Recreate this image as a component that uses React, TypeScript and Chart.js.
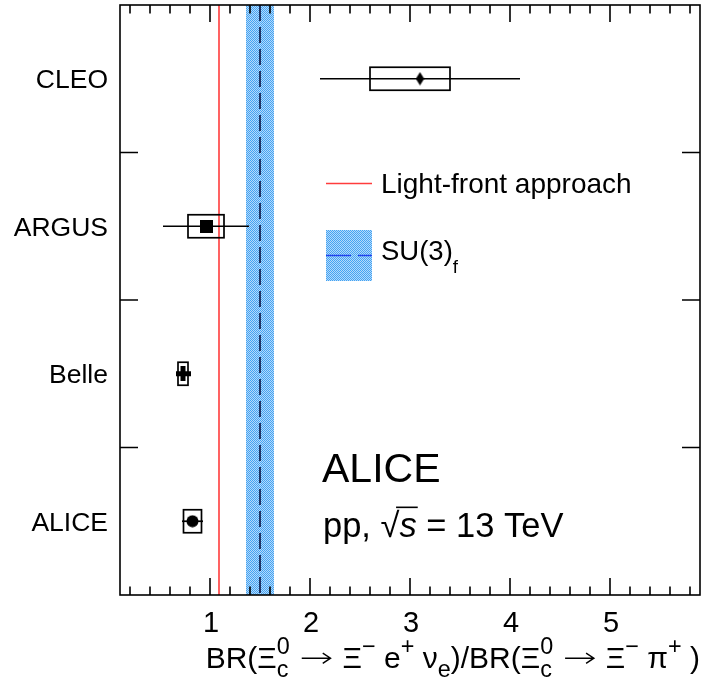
import React, { useEffect, useRef } from 'react';
import { Chart, registerables } from 'chart.js';

Chart.register(...registerables);

// ---------------- data ----------------
const experiments = ['CLEO', 'ARGUS', 'Belle', 'ALICE'];
const centralValues = [3.1, 0.96, 0.73, 0.825];
const statErrLow = [1.0, 0.43, 0.021, 0.105];
const statErrHigh = [1.0, 0.43, 0.021, 0.105];
const systErrLow = [0.5, 0.18, 0.05, 0.09];
const systErrHigh = [0.3, 0.18, 0.05, 0.09];
const markerShapes = ['diamond', 'square', 'cross', 'circle'];
const lightFrontValue = 1.09;
const su3Central = 1.5;
const su3Low = 1.36;
const su3High = 1.64;
const xTickLabels = [1, 2, 3, 4, 5];
const xMin = 0.1;
const xMax = 5.9;
const minorStep = 0.2;

// ---------------- style ----------------
const FONT = '"Liberation Sans", Arial, Helvetica, sans-serif';
const RED = 'rgb(255,60,60)';
const DASH_COLOR = '#1f3566';

type Seg = { t?: string; sup?: string; sub?: string; italic?: boolean; arrow?: boolean };

function segFont(size: number, italic?: boolean) {
  return `${italic ? 'italic ' : ''}${size}px ${FONT}`;
}

const ARROW_EM = 1.2;

function richWidth(ctx: CanvasRenderingContext2D, segs: Seg[], size: number, scr: number) {
  let w = 0;
  for (const s of segs) {
    if (s.arrow) {
      w += ARROW_EM * size;
      continue;
    }
    ctx.font = segFont(size, s.italic);
    w += ctx.measureText(s.t || '').width;
    ctx.font = segFont(size * scr);
    const a = s.sup ? ctx.measureText(s.sup).width : 0;
    const b = s.sub ? ctx.measureText(s.sub).width : 0;
    w += Math.max(a, b);
  }
  return w;
}

function drawArrow(ctx: CanvasRenderingContext2D, x: number, y: number, size: number) {
  const pad = 0.12 * size;
  const x1 = x + pad;
  const x2 = x + ARROW_EM * size - pad;
  const ay = y - 0.31 * size;
  ctx.save();
  ctx.strokeStyle = ctx.fillStyle as string;
  ctx.lineWidth = 1.4;
  ctx.beginPath();
  ctx.moveTo(x1, ay);
  ctx.lineTo(x2, ay);
  ctx.moveTo(x2 - 0.26 * size, ay - 0.17 * size);
  ctx.lineTo(x2, ay);
  ctx.lineTo(x2 - 0.26 * size, ay + 0.17 * size);
  ctx.stroke();
  ctx.restore();
}

function drawRich(
  ctx: CanvasRenderingContext2D,
  segs: Seg[],
  x: number,
  y: number,
  size: number,
  opts: { align?: 'left' | 'right'; scr?: number; raise?: number; drop?: number } = {}
) {
  const scr = opts.scr ?? 0.78;
  const raise = opts.raise ?? 0.44;
  const drop = opts.drop ?? 0.32;
  let cx = x;
  if (opts.align === 'right') cx = x - richWidth(ctx, segs, size, scr);
  ctx.textAlign = 'left';
  ctx.textBaseline = 'alphabetic';
  for (const s of segs) {
    if (s.arrow) {
      drawArrow(ctx, cx, y, size);
      cx += ARROW_EM * size;
      continue;
    }
    ctx.font = segFont(size, s.italic);
    const t = s.t || '';
    ctx.fillText(t, cx, y);
    cx += ctx.measureText(t).width;
    ctx.font = segFont(size * scr);
    let adv = 0;
    if (s.sup) {
      ctx.fillText(s.sup, cx, y - raise * size);
      adv = Math.max(adv, ctx.measureText(s.sup).width);
    }
    if (s.sub) {
      ctx.fillText(s.sub, cx, y + drop * size);
      adv = Math.max(adv, ctx.measureText(s.sub).width);
    }
    cx += adv;
  }
  return cx;
}

function makeMarker(shape: string): HTMLCanvasElement {
  const c = document.createElement('canvas');
  if (shape === 'diamond') {
    c.width = 9;
    c.height = 14;
  } else if (shape === 'cross') {
    c.width = 15;
    c.height = 15;
  } else {
    c.width = 13;
    c.height = 13;
  }
  const ctx = c.getContext('2d')!;
  ctx.fillStyle = '#000';
  if (shape === 'diamond') {
    ctx.beginPath();
    ctx.moveTo(4.5, 0.3);
    ctx.lineTo(8.7, 7);
    ctx.lineTo(4.5, 13.7);
    ctx.lineTo(0.3, 7);
    ctx.closePath();
    ctx.fill();
  } else if (shape === 'square') {
    ctx.fillRect(0, 0, 13, 13);
  } else if (shape === 'cross') {
    ctx.fillRect(0, 5, 15, 5);
    ctx.fillRect(5, 0, 5, 15);
  } else {
    ctx.beginPath();
    ctx.arc(6.5, 6.5, 6, 0, Math.PI * 2);
    ctx.fill();
  }
  return c;
}

function makeBandPattern(ctx: CanvasRenderingContext2D) {
  const pc = document.createElement('canvas');
  pc.width = 2;
  pc.height = 2;
  const p = pc.getContext('2d')!;
  p.fillStyle = '#b4dafb';
  p.fillRect(0, 0, 2, 2);
  p.fillStyle = '#45a3f2';
  p.fillRect(0, 0, 1, 1);
  p.fillRect(1, 1, 1, 1);
  return ctx.createPattern(pc, 'repeat') || '#7cbdf4';
}

const yPositions = experiments.map((_, i) => i + 0.5);

export default function App() {
  const ref = useRef<HTMLCanvasElement>(null);

  useEffect(() => {
    document.body.style.margin = '0';
    const canvas = ref.current!;
    const ctx0 = canvas.getContext('2d')!;
    const pattern = makeBandPattern(ctx0);

    const rootPlugin = {
      id: 'rootStyle',
      beforeDatasetsDraw(chart: any) {
        const { ctx, chartArea } = chart;
        const xs = chart.scales.x;
        const x1 = xs.getPixelForValue(su3Low);
        const x2 = xs.getPixelForValue(su3High);
        ctx.save();
        ctx.fillStyle = pattern;
        ctx.fillRect(x1, chartArea.top, x2 - x1, chartArea.bottom - chartArea.top);
        ctx.restore();
      },
      beforeDatasetDraw(chart: any, args: any) {
        if (args.index !== 0) return;
        const { ctx } = chart;
        const xs = chart.scales.x;
        const ys = chart.scales.y;
        ctx.save();
        ctx.strokeStyle = '#000';
        ctx.lineWidth = 1.7;
        const boxHalf = 11.5;
        centralValues.forEach((v, i) => {
          const py = ys.getPixelForValue(yPositions[i]);
          const sx1 = xs.getPixelForValue(v - statErrLow[i]);
          const sx2 = xs.getPixelForValue(v + statErrHigh[i]);
          ctx.beginPath();
          ctx.moveTo(sx1, py);
          ctx.lineTo(sx2, py);
          ctx.stroke();
          const bx1 = xs.getPixelForValue(v - systErrLow[i]);
          const bx2 = xs.getPixelForValue(v + systErrHigh[i]);
          ctx.strokeRect(bx1, py - boxHalf, bx2 - bx1, boxHalf * 2);
        });
        ctx.restore();
      },
      afterDatasetsDraw(chart: any) {
        const { ctx, chartArea } = chart;
        const xs = chart.scales.x;
        const ys = chart.scales.y;
        const { left, right, top, bottom } = chartArea;
        ctx.save();
        ctx.strokeStyle = '#000';
        ctx.fillStyle = '#000';
        ctx.lineWidth = 1.6;
        // x ticks (bottom and top, inward)
        const kStart = Math.ceil(xMin / minorStep - 1e-9);
        for (let k = kStart; k * minorStep <= xMax + 1e-9; k++) {
          const v = k * minorStep;
          const isMajor = Math.abs(v - Math.round(v)) < 1e-6;
          const len = isMajor ? 17 : 8.5;
          const px = xs.getPixelForValue(v);
          ctx.beginPath();
          ctx.moveTo(px, bottom);
          ctx.lineTo(px, bottom - len);
          ctx.moveTo(px, top);
          ctx.lineTo(px, top + len);
          ctx.stroke();
        }
        // y ticks at category boundaries (left and right, inward)
        for (let i = 1; i < experiments.length; i++) {
          const py = ys.getPixelForValue(i);
          ctx.beginPath();
          ctx.moveTo(left, py);
          ctx.lineTo(left + 18, py);
          ctx.moveTo(right, py);
          ctx.lineTo(right - 18, py);
          ctx.stroke();
        }
        // frame
        ctx.strokeRect(left, top, right - left, bottom - top);

        // x tick labels
        ctx.font = segFont(29);
        ctx.textAlign = 'center';
        ctx.textBaseline = 'alphabetic';
        xTickLabels.forEach((v) => {
          ctx.fillText(String(v), xs.getPixelForValue(v) + 1, bottom + 36.5);
        });

        // y category labels
        ctx.font = segFont(26.5);
        ctx.textAlign = 'right';
        experiments.forEach((name, i) => {
          const py = ys.getPixelForValue(yPositions[i]);
          ctx.fillText(name, left - 12, py + 9.5);
        });

        // x axis title
        const title: Seg[] = [
          { t: 'BR(' },
          { t: 'Ξ', sup: '0', sub: 'c' },
          { t: ' ' },
          { arrow: true },
          { t: ' Ξ', sup: '−' },
          { t: ' e', sup: '+' },
          { t: ' ν', sub: 'e' },
          { t: ')/BR(' },
          { t: 'Ξ', sup: '0', sub: 'c' },
          { t: ' ' },
          { arrow: true },
          { t: ' Ξ', sup: '−' },
          { t: ' π', sup: '+' },
          { t: ' )' },
        ];
        drawRich(ctx, title, right, bottom + 72.5, 30, { align: 'right' });

        // legend
        ctx.strokeStyle = RED;
        ctx.lineWidth = 1.5;
        ctx.beginPath();
        ctx.moveTo(326, 183.5);
        ctx.lineTo(372, 183.5);
        ctx.stroke();
        ctx.fillStyle = '#000';
        ctx.font = segFont(28);
        ctx.textAlign = 'left';
        ctx.fillText('Light-front approach', 381, 192.5);

        ctx.fillStyle = pattern;
        ctx.fillRect(326, 230, 46, 51);
        ctx.strokeStyle = '#2244ee';
        ctx.lineWidth = 1.5;
        ctx.setLineDash([25, 7]);
        ctx.beginPath();
        ctx.moveTo(326, 255.5);
        ctx.lineTo(372, 255.5);
        ctx.stroke();
        ctx.setLineDash([]);
        ctx.fillStyle = '#000';
        drawRich(ctx, [{ t: 'SU(3)', sub: 'f' }], 381, 259.5, 27.5, { scr: 0.68, drop: 0.5 });

        // ALICE label
        ctx.font = segFont(41);
        ctx.textAlign = 'left';
        ctx.fillText('ALICE', 322, 482);

        // pp, sqrt(s) = 13 TeV
        const ppSize = 34.5;
        const base = 537;
        let cx = 323;
        ctx.font = segFont(ppSize);
        ctx.fillText('pp, ', cx, base);
        cx += ctx.measureText('pp, ').width;
        const sqW = ctx.measureText('√').width;
        ctx.fillText('√', cx, base);
        const lineStart = cx + sqW * 0.82;
        cx += sqW;
        ctx.font = segFont(ppSize, true);
        ctx.fillText('s', cx, base);
        cx += ctx.measureText('s').width;
        ctx.lineWidth = 1.6;
        ctx.strokeStyle = '#000';
        ctx.beginPath();
        ctx.moveTo(lineStart, base - 0.86 * ppSize);
        ctx.lineTo(cx + 1, base - 0.86 * ppSize);
        ctx.stroke();
        ctx.font = segFont(ppSize);
        ctx.fillText(' = 13 TeV', cx, base);

        ctx.restore();
      },
    };

    const chart = new Chart(canvas, {
      type: 'scatter',
      data: {
        datasets: [
          {
            label: 'Measurements',
            data: centralValues.map((v, i) => ({ x: v, y: yPositions[i] })),
            pointStyle: markerShapes.map(makeMarker) as any,
            pointRadius: 6,
            showLine: false,
          },
          {
            label: 'SU(3)f',
            data: [
              { x: su3Central, y: 0 },
              { x: su3Central, y: experiments.length },
            ],
            showLine: true,
            borderColor: DASH_COLOR,
            borderWidth: 2,
            borderDash: [16, 6],
            pointRadius: 0,
          },
          {
            label: 'Light-front approach',
            data: [
              { x: lightFrontValue, y: 0 },
              { x: lightFrontValue, y: experiments.length },
            ],
            showLine: true,
            borderColor: RED,
            borderWidth: 1.6,
            pointRadius: 0,
          },
        ],
      },
      options: {
        animation: false,
        responsive: false,
        maintainAspectRatio: false,
        layout: { autoPadding: false, padding: { left: 120, right: 2, top: 5, bottom: 84 } },
        scales: {
          x: { type: 'linear', min: xMin, max: xMax, display: false },
          y: { type: 'linear', min: 0, max: experiments.length, reverse: true, display: false },
        },
        plugins: {
          legend: { display: false },
          tooltip: { enabled: false },
        },
      },
      plugins: [rootPlugin],
    } as any);

    return () => chart.destroy();
  }, []);

  return (
    <canvas
      ref={ref}
      width={702}
      height={679}
      style={{ display: 'block', width: '702px', height: '679px' }}
    />
  );
}
